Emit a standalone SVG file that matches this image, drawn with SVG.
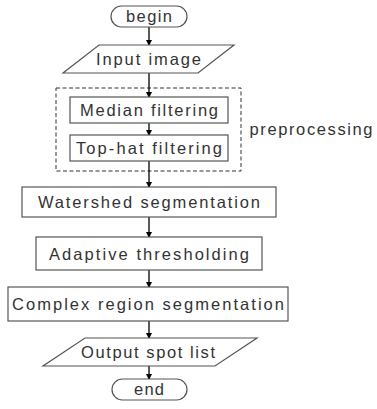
<svg xmlns="http://www.w3.org/2000/svg" width="377" height="409" viewBox="0 0 377 409">
<defs>
<marker id="ah" markerWidth="6" markerHeight="6" refX="5" refY="3" orient="auto" markerUnits="userSpaceOnUse">
<path d="M0,0 L6,3 L0,6 Z" fill="#000"/>
</marker>
</defs>
<style>
.s{fill:#fff;stroke:#555;stroke-width:1.2}
.t{font-family:"Liberation Sans","DejaVu Sans",sans-serif;font-size:16.5px;fill:#333;text-anchor:middle}
.c{stroke:#000;stroke-width:1.3;fill:none;marker-end:url(#ah)}
.d{fill:none;stroke:#333;stroke-width:1;stroke-dasharray:4,2.5}
</style>
<rect width="377" height="409" fill="#fff"/>
<g id="preprocessing">
<rect class="d" x="56" y="88" width="185" height="83"/>
<text class="t" x="311" y="135" textLength="123" lengthAdjust="spacing">preprocessing</text>
</g>
<g id="connectors">
<line class="c" x1="149" y1="27" x2="149" y2="45"/>
<line class="c" x1="149" y1="73" x2="149" y2="97"/>
<line class="c" x1="149" y1="123" x2="149" y2="135"/>
<line class="c" x1="149" y1="161" x2="149" y2="187"/>
<line class="c" x1="149" y1="217" x2="149" y2="237"/>
<line class="c" x1="149" y1="270" x2="149" y2="287"/>
<line class="c" x1="149" y1="321" x2="149" y2="338"/>
<line class="c" x1="149" y1="366" x2="149" y2="379"/>
</g>
<g id="begin">
<rect class="s" x="111" y="6" width="76" height="21" rx="10.5"/>
<text class="t" x="149" y="22" textLength="46" lengthAdjust="spacing">begin</text>
</g>
<g id="input">
<polygon class="s" points="99,45 234,45 198,73 63,73"/>
<text class="t" x="148.5" y="65" textLength="105" lengthAdjust="spacing">Input image</text>
</g>
<g id="median">
<rect class="s" x="70" y="97" width="158" height="26"/>
<text class="t" x="149" y="116" textLength="138" lengthAdjust="spacing">Median filtering</text>
</g>
<g id="tophat">
<rect class="s" x="70" y="135" width="158" height="26"/>
<text class="t" x="149" y="154" textLength="146" lengthAdjust="spacing">Top-hat filtering</text>
</g>
<g id="watershed">
<rect class="s" x="22" y="187" width="254" height="30"/>
<text class="t" x="149" y="208" textLength="222" lengthAdjust="spacing">Watershed segmentation</text>
</g>
<g id="adaptive">
<rect class="s" x="36" y="237" width="226" height="33"/>
<text class="t" x="149" y="260" textLength="200" lengthAdjust="spacing">Adaptive thresholding</text>
</g>
<g id="complex">
<rect class="s" x="8" y="287" width="280" height="34"/>
<text class="t" x="148" y="310" textLength="272" lengthAdjust="spacing">Complex region segmentation</text>
</g>
<g id="output">
<polygon class="s" points="85,338 257,338 215,366 43,366"/>
<text class="t" x="148" y="358" textLength="134" lengthAdjust="spacing">Output spot list</text>
</g>
<g id="end">
<rect class="s" x="112" y="379" width="75" height="21" rx="10.5"/>
<text class="t" x="149" y="395" textLength="30" lengthAdjust="spacing">end</text>
</g>
</svg>
